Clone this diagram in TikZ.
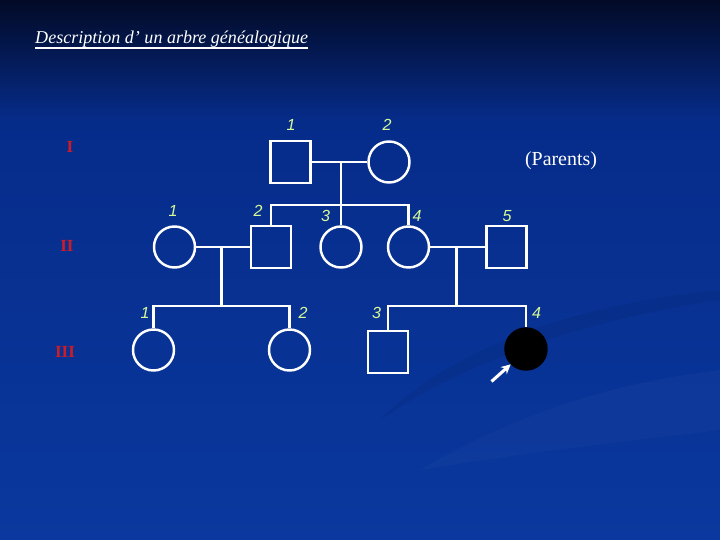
\documentclass[tikz,border=0pt]{standalone}
\usepackage{fontspec}
\setmainfont{Liberation Serif}
\newfontfamily\numfont{Liberation Sans}
\usetikzlibrary{arrows.meta}

\definecolor{bgtop}{RGB}{2,10,38}
\definecolor{bgmid}{RGB}{6,44,138}
\definecolor{bgbot}{RGB}{10,56,158}
\definecolor{genred}{RGB}{205,28,40}
\definecolor{numgreen}{RGB}{215,250,150}

\tikzset{
  male/.style={draw=white, line width=2.1pt, minimum width=1.2cm, minimum height=1.26cm, inner sep=0pt},
  female/.style={draw=white, circle, line width=2.1pt, minimum size=1.23cm, inner sep=0pt},
  affected/.style={fill=black, draw=black},
  link/.style={draw=white, line width=2.1pt},
  num/.style={text=numgreen, inner sep=0pt, font=\numfont\itshape\fontsize{13.7}{15}\selectfont},
  gen/.style={text=genred, inner sep=0pt, font=\bfseries\fontsize{14.5}{16}\selectfont},
}

\begin{document}
\begin{tikzpicture}[x=0.03cm, y=-0.03cm]
    % Background
    \useasboundingbox (0,0) rectangle (720,540);
    \shade[top color=bgtop, bottom color=bgmid] (0,0) rectangle (720,120);
    \shade[top color=bgmid, bottom color=bgbot] (0,120) rectangle (720,540);
    \fill[black, opacity=0.06] (380,420) .. controls (470,330) and (620,300) .. (720,290)
        -- (720,300) .. controls (620,314) and (480,350) .. (380,420);
    \fill[white, opacity=0.025] (420,470) .. controls (540,400) and (640,380) .. (720,370)
        -- (720,430) .. controls (640,440) and (540,450) .. (420,470);

    % Title
    \node [anchor=base west, inner sep=0pt, text=white, font=\itshape\fontsize{15.4}{17}\selectfont]
        (title) at (35,44) {Description d’ un arbre généalogique};
    \draw [white, line width=1.8pt] ([yshift=-3.2pt]title.base west) -- ([yshift=-3.2pt]title.base east);

    % Generations
    \node [gen] (gI)   at (70,147)  {I};
    \node [gen] (gII)  at (67,246)  {II};
    \node [gen] (gIII) at (65,352)  {III};
    \node [text=white, inner sep=0pt, font=\fontsize{17}{19}\selectfont] (parents) at (561,161) {(Parents)};

    % Nodes {I1, I2, II1, ..., III4}
    \node [male]   (I1)   at (290.5,162) {};
    \node [female] (I2)   at (389,162)   {};
    \node [female] (II1)  at (174.5,247) {};
    \node [male]   (II2)  at (271,247)   {};
    \node [female] (II3)  at (341,247)   {};
    \node [female] (II4)  at (408.5,247) {};
    \node [male]   (II5)  at (506.5,247) {};
    \node [female] (III1) at (153.5,350) {};
    \node [female] (III2) at (289.5,350) {};
    \node [male]   (III3) at (388,352)   {};
    \node [female, affected] (III4) at (526,349) {};

    % Numbers
    \node [num] (nI1)   at (291,125)   {1};
    \node [num] (nI2)   at (387,125)   {2};
    \node [num] (nII1)  at (173,211)   {1};
    \node [num] (nII2)  at (258,211)   {2};
    \node [num] (nII3)  at (325.5,216) {3};
    \node [num] (nII4)  at (417,216)   {4};
    \node [num] (nII5)  at (507,216)   {5};
    \node [num] (nIII1) at (145,313)   {1};
    \node [num] (nIII2) at (303,313)   {2};
    \node [num] (nIII3) at (376.5,313) {3};
    \node [num] (nIII4) at (536.5,313) {4};

    % Junctions
    \coordinate (jI)   at (341,162);
    \coordinate (sI)   at (341,205);
    \coordinate (jII)  at (221.5,247);
    \coordinate (sII)  at (221.5,306);
    \coordinate (jIII) at (456.5,247);
    \coordinate (sIII) at (456.5,306);
    \coordinate (arr)  at (491.5,381.5);

    % Paths
    \path [link] (I1) -- (I2);
    \path [link] (jI) -- (II3);
    \path [link] (II2.north) -- (II2.north |- sI) -- (II4.north |- sI) -- (II4.north);
    \path [link] (II1) -- (II2);
    \path [link] (jII) -- (sII);
    \path [link] (III1.north) -- (III1.north |- sII) -- (III2.north |- sII) -- (III2.north);
    \path [link] (II4) -- (II5);
    \path [link] (jIII) -- (sIII);
    \path [link] (III3.north) -- (III3.north |- sIII) -- (III4.north |- sIII) -- (III4.north);
    \draw [white, line width=2.6pt, -{Stealth[length=8pt, width=8pt]}] (arr) -- (III4.south west);
\end{tikzpicture}
\end{document}
